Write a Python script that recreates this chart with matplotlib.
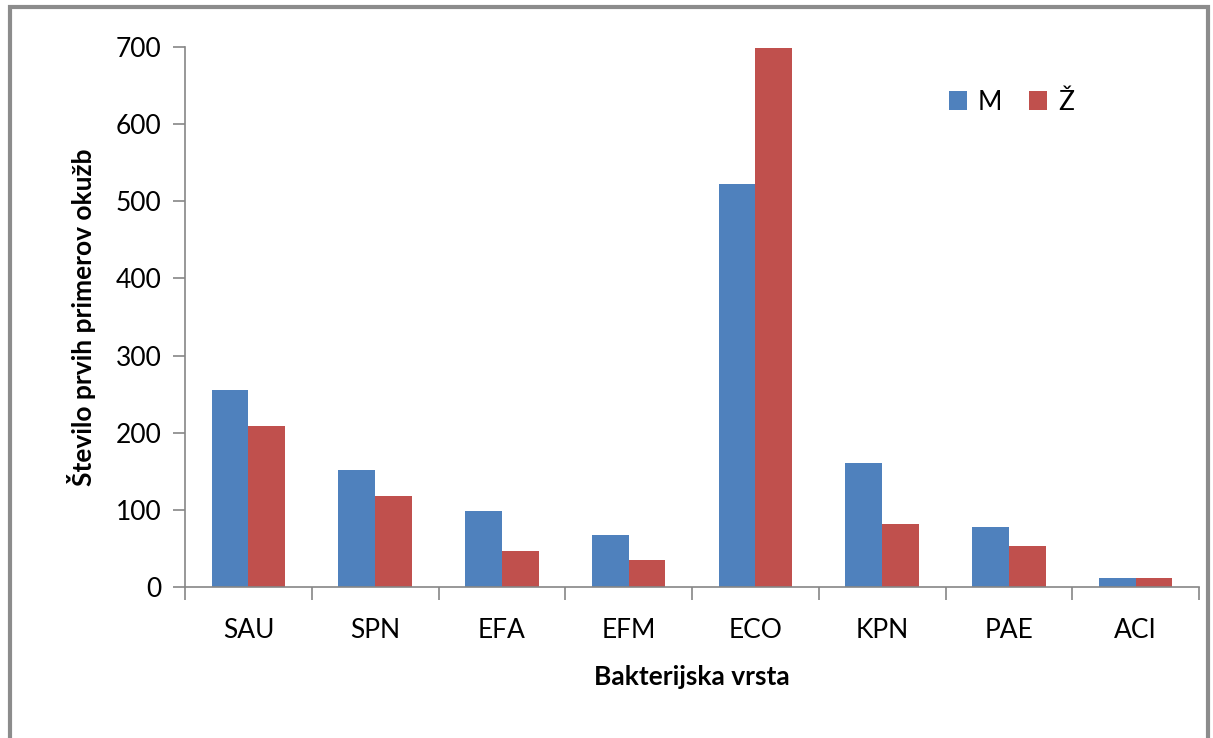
import matplotlib.pyplot as plt
from matplotlib.patches import Rectangle
import numpy as np

# data
species = ['SAU', 'SPN', 'EFA', 'EFM', 'ECO', 'KPN', 'PAE', 'ACI']
moski = [256, 152, 99, 67, 523, 161, 78, 12]
zenske = [209, 118, 47, 35, 699, 82, 53, 12]

blue = '#4F81BD'
red = '#C0504D'
gray = '#868686'

plt.rcParams['font.family'] = ['Lato', 'DejaVu Sans']

fig = plt.figure(figsize=(12.13, 7.38), dpi=100)
# outer frame
fig.patches.append(Rectangle((0.008, -0.05), 0.988, 1.04, transform=fig.transFigure,
                             fill=False, edgecolor='#8C8C8C', linewidth=3))

ax = fig.add_axes([185 / 1213, 1 - 587 / 738, (1199 - 185) / 1213, (587 - 47) / 738])

x = np.arange(len(species))
w = 0.29
ax.bar(x - w / 2, moski, width=w, color=blue, label='M')
ax.bar(x + w / 2, zenske, width=w, color=red, label='Ž')

ax.set_xlim(-0.5, len(species) - 0.5)
ax.set_ylim(0, 700)
ax.set_yticks(range(0, 701, 100))
ax.set_xticks(x)
ax.set_xticklabels(species)
ax.set_xticks(np.arange(-0.5, len(species), 1), minor=True)
ax.tick_params(axis='x', which='major', length=0, pad=22, labelsize=19)
ax.tick_params(axis='x', which='minor', length=9, color=gray, width=1.2)
ax.tick_params(axis='y', length=9, color=gray, width=1.2, labelsize=19, pad=8)

for s in ['top', 'right']:
    ax.spines[s].set_visible(False)
for s in ['left', 'bottom']:
    ax.spines[s].set_color(gray)
    ax.spines[s].set_linewidth(1.2)

ax.set_xlabel('Bakterijska vrsta', fontsize=19, fontweight='bold', labelpad=16)
ax.set_ylabel('Število prvih primerov okužb', fontsize=19, fontweight='bold', labelpad=14)

ax.legend(loc='upper left', bbox_to_anchor=(0.73, 0.965), ncol=2, frameon=False,
          fontsize=19, handlelength=0.7, handleheight=0.7, handletextpad=0.4,
          columnspacing=1.0)

fig.savefig('out.png', dpi=100)
